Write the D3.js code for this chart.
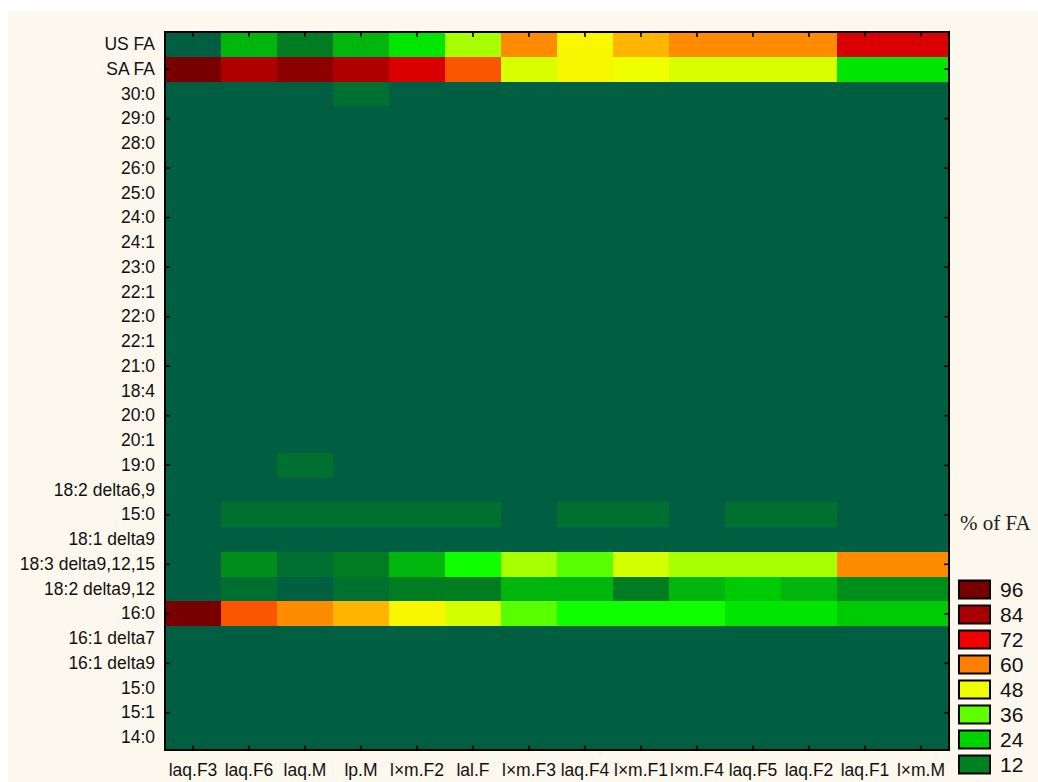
<!DOCTYPE html>
<html>
<head>
<meta charset="utf-8">
<script src="https://cdn.jsdelivr.net/npm/d3@7"></script>
<style>
  html, body { margin: 0; padding: 0; background: #ffffff; }
  svg { display: block; }
</style>
</head>
<body>
<svg id="chart" width="1038" height="782"></svg>
<script>
// Samples (columns of the heat map)
const samples = ["laq.F3", "laq.F6", "laq.M", "lp.M", "l×m.F2", "lal.F", "l×m.F3",
                 "laq.F4", "l×m.F1", "l×m.F4", "laq.F5", "laq.F2", "laq.F1", "l×m.M"];

// Fatty acids / fatty-acid classes (rows, top to bottom)
const fattyAcids = ["US FA", "SA FA", "30:0", "29:0", "28:0", "26:0", "25:0", "24:0", "24:1",
                    "23:0", "22:1", "22:0", "22:1", "21:0", "18:4", "20:0", "20:1", "19:0",
                    "18:2 delta6,9", "15:0", "18:1 delta9", "18:3 delta9,12,15",
                    "18:2 delta9,12", "16:0", "16:1 delta7", "16:1 delta9", "15:0", "15:1", "14:0"];

// % of FA, one array per row, values in sample order
const usFA       = [0, 19.5, 11, 19.5, 26.5, 42, 59, 49.5, 55, 59, 59, 59, 76, 76];
const saFA       = [96, 83, 91, 83, 76, 64, 46, 49.5, 48, 46, 46, 46, 26.5, 26.5];
const fa30_0     = [0, 0, 0, 6, 0, 0, 0, 0, 0, 0, 0, 0, 0, 0];
const fa19_0     = [0, 0, 6, 0, 0, 0, 0, 0, 0, 0, 0, 0, 0, 0];
const fa15_0a    = [0, 6, 6, 6, 6, 6, 0, 6, 6, 0, 6, 6, 0, 0];
const fa18_3     = [0, 14, 6, 11, 19.5, 31, 42, 35.5, 45.7, 42, 42, 42, 59, 59];
const fa18_2     = [0, 6, 0, 6, 11, 11, 19.5, 19.5, 11, 19.5, 22.5, 19.5, 14, 14];
const fa16_0     = [96, 64, 59, 55, 49.5, 45.7, 35.5, 31, 31, 31, 26.5, 26.5, 22.5, 22.5];
const zeroRow    = [0, 0, 0, 0, 0, 0, 0, 0, 0, 0, 0, 0, 0, 0];

const pctFA = [usFA, saFA, fa30_0, zeroRow, zeroRow, zeroRow, zeroRow, zeroRow, zeroRow,
               zeroRow, zeroRow, zeroRow, zeroRow, zeroRow, zeroRow, zeroRow, zeroRow, fa19_0,
               zeroRow, fa15_0a, zeroRow, fa18_3, fa18_2, fa16_0, zeroRow, zeroRow, zeroRow,
               zeroRow, zeroRow];

// Legend levels
const legendLevels = [96, 84, 72, 60, 48, 36, 24, 12];

// Colour ramp stops (value -> colour)
const rampValues = [0, 12, 24, 30, 36, 48, 51, 54, 60, 72, 84, 96];
const rampColors = ["#005f40", "#008020", "#00d400", "#00ff00", "#60ff00", "#f0ff00",
                    "#ffee00", "#ffc000", "#ff8000", "#f00000", "#a80000", "#780000"];

const color = d3.scaleLinear()
  .domain(rampValues)
  .range(rampColors)
  .interpolate(d3.interpolateRgb)
  .clamp(true);

const SANS = "'Liberation Sans', Arial, sans-serif";
const SERIF = "'Liberation Serif', 'Times New Roman', serif";

const svg = d3.select("#chart");

// page background panel
svg.append("rect").attr("x", 0).attr("y", 0).attr("width", 1038).attr("height", 782).attr("fill", "#ffffff");
svg.append("rect").attr("x", 8).attr("y", 11).attr("width", 1030).attr("height", 771).attr("fill", "#fdf8ed");

const plot = { left: 165, right: 949, top: 32, bottom: 750 };

const x = d3.scaleBand().domain(d3.range(samples.length)).range([plot.left, plot.right]).padding(0);
const y = d3.scaleBand().domain(d3.range(fattyAcids.length)).range([plot.top, plot.bottom]).padding(0);

// cells
const cells = [];
pctFA.forEach((row, ri) => row.forEach((v, ci) => cells.push({ ri, ci, v })));

svg.append("g")
  .selectAll("rect")
  .data(cells)
  .join("rect")
  .attr("x", d => x(d.ci))
  .attr("y", d => y(d.ri))
  .attr("width", x.bandwidth() + 0.5)
  .attr("height", y.bandwidth() + 0.5)
  .attr("fill", d => color(d.v))
  .attr("shape-rendering", "crispEdges");

const labelStyle = g => {
  g.select(".domain").remove();
  g.selectAll("text")
    .style("font-family", SANS)
    .style("font-size", "17.5px")
    .style("fill", "#111");
};

// row labels
svg.append("g")
  .attr("transform", `translate(${plot.left},0)`)
  .call(d3.axisLeft(y).tickSize(0).tickPadding(10).tickFormat(i => fattyAcids[i]))
  .call(labelStyle);

// column labels
svg.append("g")
  .attr("transform", `translate(0,${plot.bottom})`)
  .call(d3.axisBottom(x).tickSize(0).tickPadding(14).tickFormat(i => samples[i]))
  .call(labelStyle);

// inward tick marks
const oddRows = d3.range(1, fattyAcids.length, 2);
const tickStyle = g => {
  g.select(".domain").remove();
  g.selectAll("line").attr("stroke", "#000").attr("stroke-width", 1.6);
  g.selectAll("text").remove();
};

svg.append("g").attr("transform", `translate(${plot.left},0)`)
  .call(d3.axisRight(y).tickValues(oddRows).tickSize(5).tickFormat(""))
  .call(tickStyle);
svg.append("g").attr("transform", `translate(${plot.right},0)`)
  .call(d3.axisLeft(y).tickValues(oddRows).tickSize(5).tickFormat(""))
  .call(tickStyle);
svg.append("g").attr("transform", `translate(0,${plot.top})`)
  .call(d3.axisBottom(x).tickSize(5).tickFormat(""))
  .call(tickStyle);
svg.append("g").attr("transform", `translate(0,${plot.bottom})`)
  .call(d3.axisTop(x).tickSize(5).tickFormat(""))
  .call(tickStyle);

// frame
svg.append("rect")
  .attr("x", plot.left).attr("y", plot.top)
  .attr("width", plot.right - plot.left).attr("height", plot.bottom - plot.top)
  .attr("fill", "none").attr("stroke", "#000").attr("stroke-width", 2);

// legend
svg.append("text")
  .attr("x", 960).attr("y", 530)
  .style("font-family", SERIF)
  .style("font-size", "21px")
  .style("fill", "#222")
  .text("% of FA");

const legendY = d3.scaleBand().domain(legendLevels).range([577.5, 777.5]).paddingInner(0);
const lg = svg.append("g");
lg.selectAll("rect")
  .data(legendLevels)
  .join("rect")
  .attr("x", 959).attr("y", d => legendY(d) + 3)
  .attr("width", 31).attr("height", 18)
  .attr("fill", d => color(d))
  .attr("stroke", "#000").attr("stroke-width", 2);
lg.selectAll("text")
  .data(legendLevels)
  .join("text")
  .attr("x", 1000).attr("y", d => legendY(d) + 12)
  .attr("dy", "0.36em")
  .style("font-family", SANS)
  .style("font-size", "21px")
  .style("fill", "#111")
  .text(d => d);
</script>
</body>
</html>
